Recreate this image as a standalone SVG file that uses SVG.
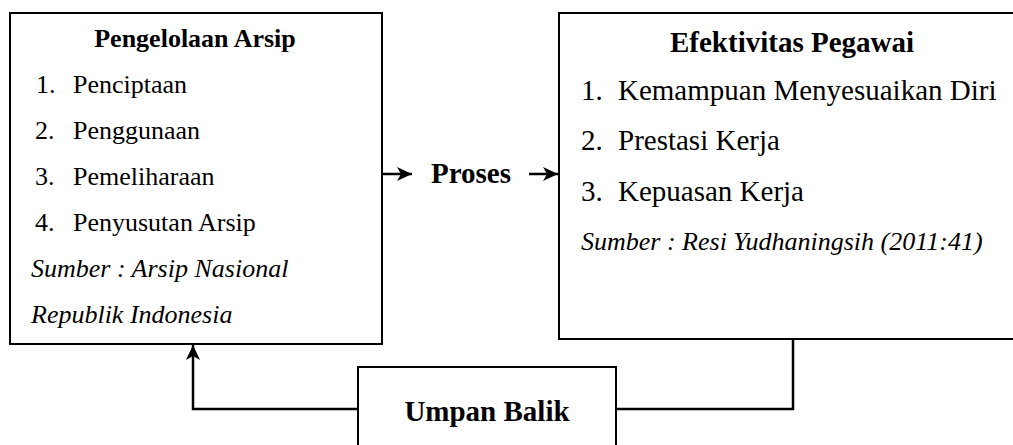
<svg xmlns="http://www.w3.org/2000/svg" width="1013" height="445" viewBox="0 0 1013 445">
<defs>
<style>
.box{fill:#fff;stroke:#000;stroke-width:2}
.t{font-family:"Liberation Serif","Times New Roman",serif;fill:#000}
.l{font-size:26px}
.r{font-size:29px}
.b{font-weight:bold}
.i{font-style:italic}
.c{stroke:#000;stroke-width:2.5;fill:none}
</style>
<marker id="ah" viewBox="0 0 16 16" refX="15" refY="8" markerWidth="16" markerHeight="16" markerUnits="userSpaceOnUse" orient="auto">
<path d="M0,1 L15,8 L0,15 L4,8 Z" fill="#000"/>
</marker>
</defs>
<g id="connectors">
<line class="c" x1="382" y1="174" x2="412" y2="174" marker-end="url(#ah)"/>
<line class="c" x1="529" y1="174" x2="558" y2="174" marker-end="url(#ah)"/>
<polyline class="c" points="793,340 793,409 616,409"/>
<polyline class="c" points="358,409 193,409 193,345" marker-end="url(#ah)"/>
</g>
<g id="pengelolaan">
<rect class="box" x="10" y="13" width="372" height="331"/>
<text class="t l b" x="195" y="47" text-anchor="middle">Pengelolaan Arsip</text>
<text class="t l" x="36" y="93">1.</text><text class="t l" x="73" y="93">Penciptaan</text>
<text class="t l" x="35" y="139">2.</text><text class="t l" x="73" y="139">Penggunaan</text>
<text class="t l" x="35" y="185">3.</text><text class="t l" x="73" y="185">Pemeliharaan</text>
<text class="t l" x="35" y="231">4.</text><text class="t l" x="73" y="231">Penyusutan Arsip</text>
<text class="t l i" x="31" y="277">Sumber : Arsip Nasional</text>
<text class="t l i" x="31" y="323">Republik Indonesia</text>
</g>
<g id="proses">
<text class="t r b" x="471" y="183" text-anchor="middle">Proses</text>
</g>
<g id="efektivitas">
<rect class="box" x="559" y="13" width="470" height="326"/>
<text class="t r b" x="792" y="52" text-anchor="middle">Efektivitas Pegawai</text>
<text class="t r" x="581" y="100">1.</text><text class="t r" x="618" y="100">Kemampuan Menyesuaikan Diri</text>
<text class="t r" x="581" y="150">2.</text><text class="t r" x="618" y="150">Prestasi Kerja</text>
<text class="t r" x="581" y="201">3.</text><text class="t r" x="618" y="201">Kepuasan Kerja</text>
<text class="t l i" x="581" y="250">Sumber : Resi Yudhaningsih (2011:41)</text>
</g>
<g id="umpan-balik">
<rect class="box" x="358" y="367" width="258" height="100"/>
<text class="t r b" x="487" y="421" text-anchor="middle">Umpan Balik</text>
</g>
</svg>
